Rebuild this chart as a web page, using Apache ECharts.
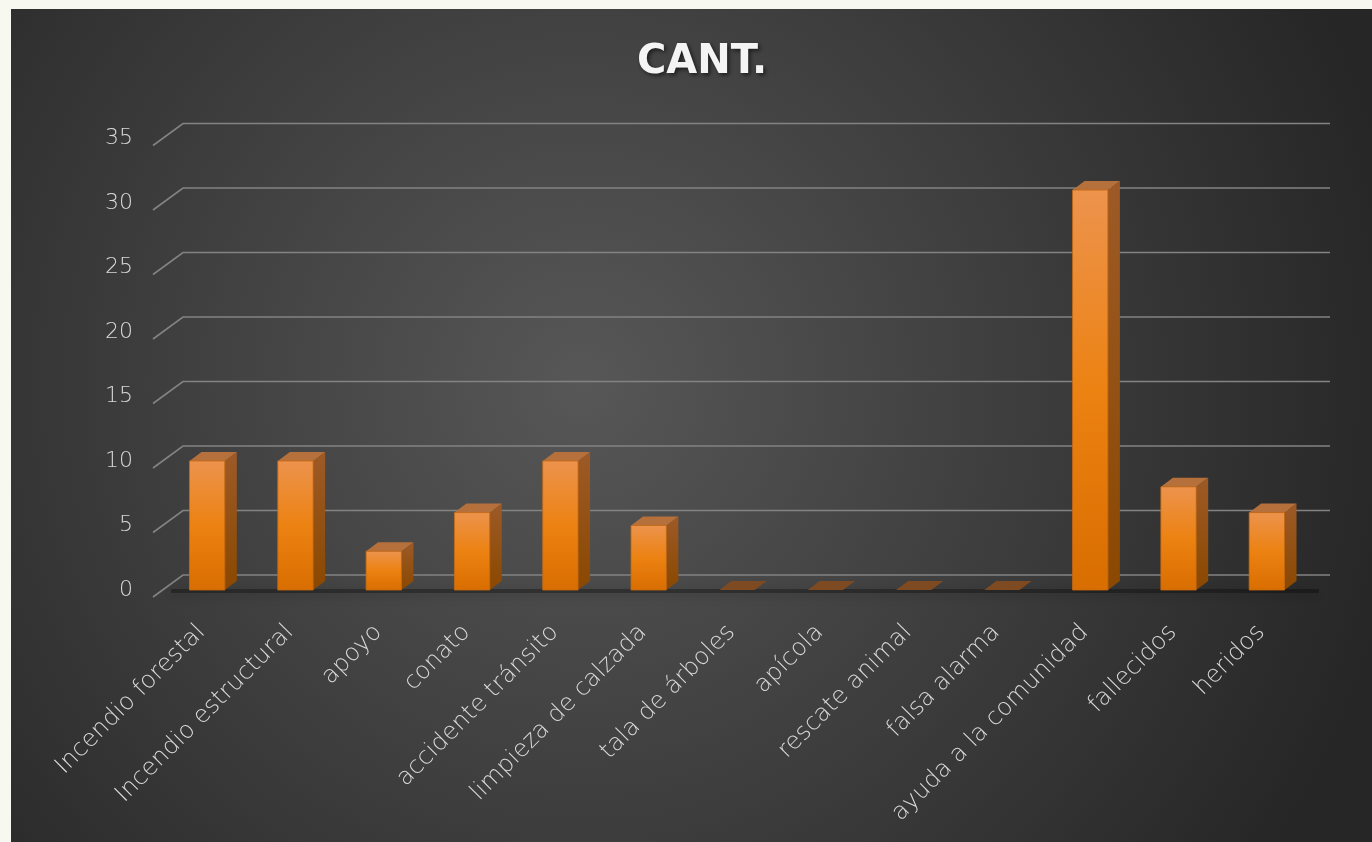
<!DOCTYPE html>
<html><head><meta charset="utf-8">
<script src="https://cdn.jsdelivr.net/npm/echarts@6/dist/echarts.min.js"></script>
<style>html,body{margin:0;padding:0;background:#f7f8ef;}#c{width:1372px;height:842px;}</style>
</head><body><div id="c"></div>
<script>
const categories = ["Incendio forestal","Incendio estructural","apoyo","conato","accidente tránsito","limpieza de calzada","tala de árboles","apícola","rescate animal","falsa alarma","ayuda a la comunidad","fallecidos","heridos"];
const values = [10,10,3,6,10,5,0,0,0,0,31,8,6];
const yTicks = [0,5,10,15,20,25,30,35];
const titleText = "CANT.";

const DX = 12, DY = -9;
const chart = echarts.init(document.getElementById('c'));

function renderGrid(params, api){
  const cs = params.coordSys;
  const v = api.value(1);
  const y = api.coord([0, v])[1];
  const children = [];
  if (v === 0) {
    children.push({type:'rect', shape:{x:cs.x+8, y:y-1, width:cs.width, height:4},
      style:{fill:'rgba(0,0,0,0.3)', shadowBlur:12, shadowColor:'rgba(0,0,0,0.85)', shadowOffsetY:2}});
  }
  children.push({type:'polyline', shape:{points:[[cs.x-10, y+7],[cs.x+20, y-15],[cs.x+cs.width+19, y-15]]},
    style:{stroke:'#838383', lineWidth:1.6, fill:null}});
  return {type:'group', children};
}

function renderBar(params, api){
  const i = api.value(0), v = api.value(1);
  const top = api.coord([i, v]);
  const base = api.coord([i, 0]);
  const bw = api.size([1,0])[0]*0.4;
  const x0 = top[0]-bw/2, x1 = top[0]+bw/2;
  const yt = top[1], yb = base[1];
  if (v === 0) {
    return {type:'polygon', shape:{points:[[x0,yb],[x0+DX,yb+DY],[x1+DX,yb+DY],[x1,yb]]},
      style:{fill:'#7d4a22'}};
  }
  return {type:'group', children:[
    {type:'polygon', shape:{points:[[x1,yt],[x1+DX,yt+DY],[x1+DX,yb+DY],[x1,yb]]},
      style:{fill:new echarts.graphic.LinearGradient(0,0,0,1,[{offset:0,color:'#9d5a27'},{offset:1,color:'#8a4800'}])}},
    {type:'polygon', shape:{points:[[x0,yt],[x0+DX,yt+DY],[x1+DX,yt+DY],[x1,yt]]},
      style:{fill:'#b6703b'}},
    {type:'rect', shape:{x:x0, y:yt, width:bw, height:yb-yt},
      style:{fill:new echarts.graphic.LinearGradient(0,0,0,1,[{offset:0,color:'#ec934d'},{offset:0.5,color:'#ec8212'},{offset:1,color:'#d96e00'}]),
        stroke:'#c86a10', lineWidth:0.8}}
  ]};
}

const option = {
  backgroundColor:'#f7f8ef',
  animation:false,
  graphic:[{type:'rect', left:11, top:9, z:-10, silent:true,
    shape:{width:1361, height:833},
    style:{fill:new echarts.graphic.RadialGradient(0.42,0.45,1.0,[{offset:0,color:'#575757'},{offset:1,color:'#262626'}])}}],
  title:{text:titleText, left:632, top:38,
    textStyle:{color:'#f4f4f4', fontFamily:'DejaVu Sans', fontWeight:'bold', fontSize:40,
      textShadowColor:'rgba(0,0,0,0.6)', textShadowBlur:4, textShadowOffsetX:2, textShadowOffsetY:2}},
  grid:{left:163, right:61, top:138.5, bottom:252, containLabel:false},
  xAxis:{type:'category', data:categories,
    axisLine:{show:false}, axisTick:{show:false}, splitLine:{show:false},
    axisLabel:{rotate:45, margin:33, padding:[0,8,0,0], interval:0, color:'#d9d9d9', fontSize:24, fontFamily:'DejaVu Sans', fontWeight:200}},
  yAxis:{type:'value', min:0, max:35, interval:5,
    axisLine:{show:false}, axisTick:{show:false}, splitLine:{show:false},
    axisLabel:{margin:30, padding:[14,0,0,0], color:'#d9d9d9', fontSize:22, fontFamily:'DejaVu Sans', fontWeight:200}},
  series:[
    {type:'custom', z:1, renderItem:renderGrid, data:yTicks.map(v=>[0,v]), silent:true},
    {type:'custom', z:2, renderItem:renderBar, data:values.map((v,i)=>[i,v])}
  ]
};
chart.setOption(option);
</script></body></html>
